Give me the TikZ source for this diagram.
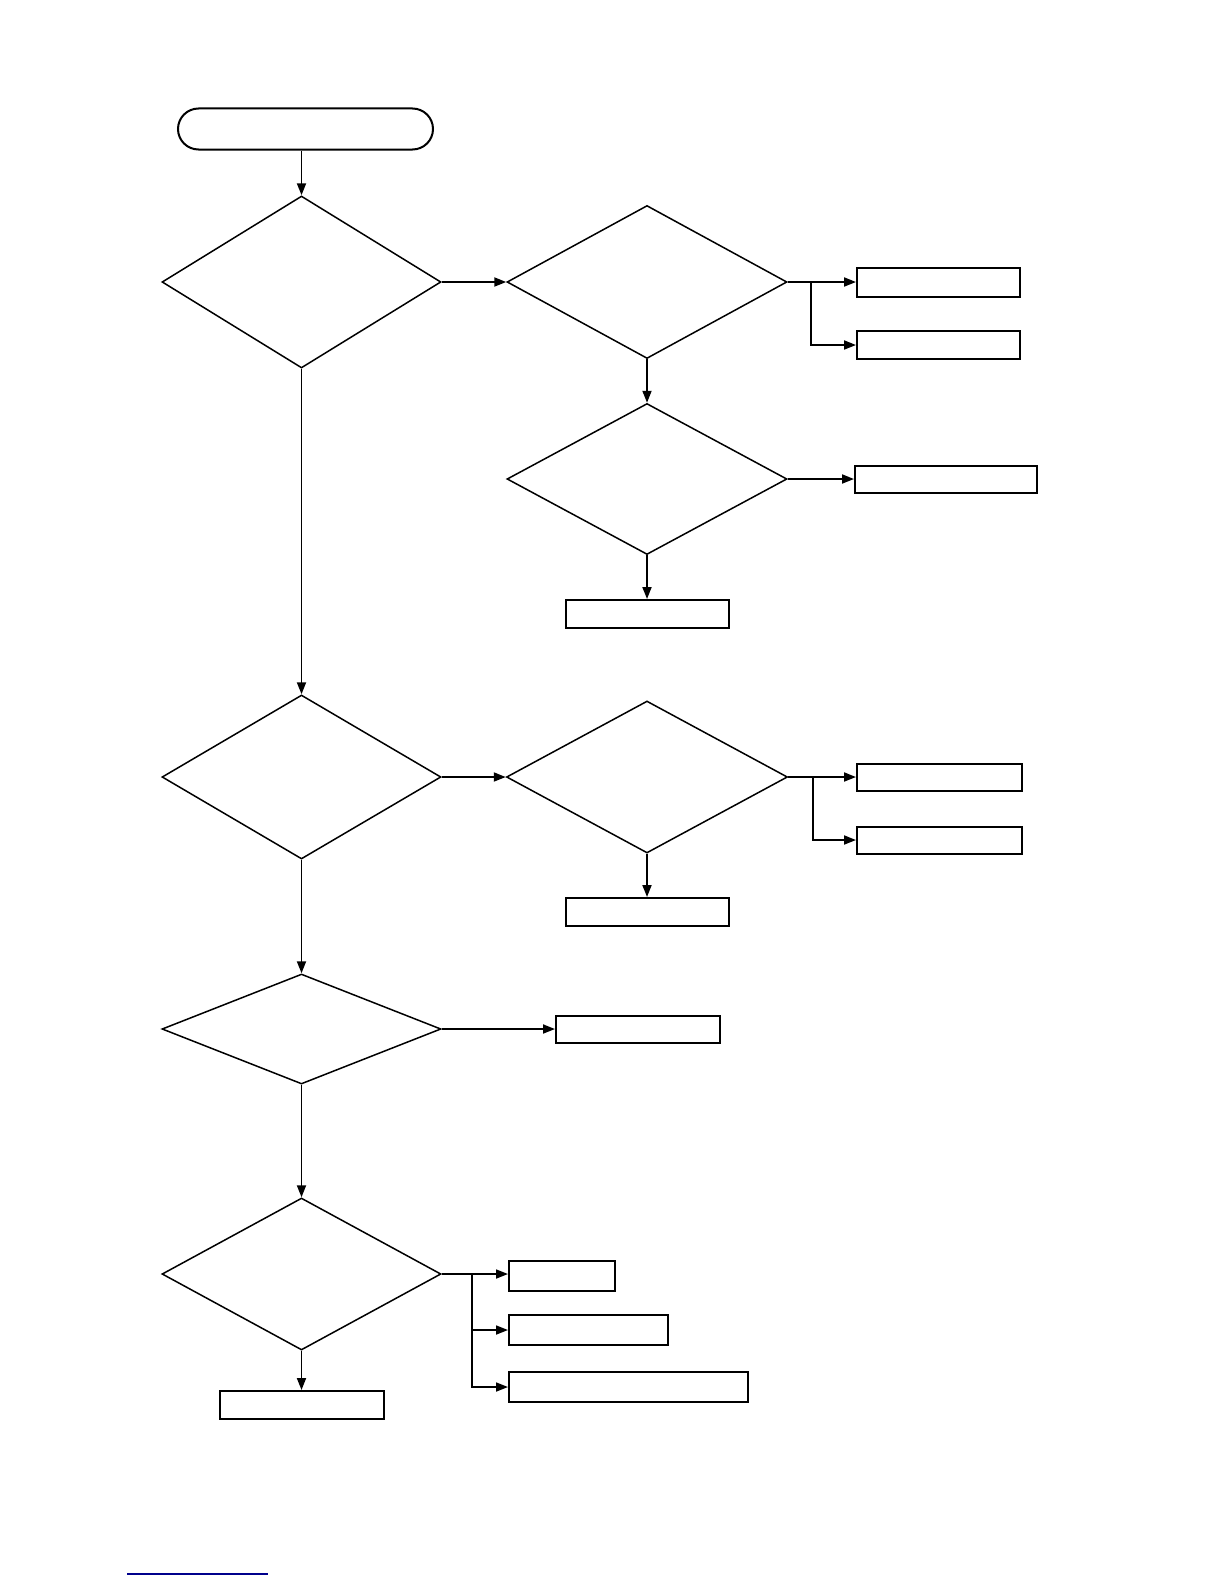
\documentclass[tikz,border=0pt]{standalone}
\usetikzlibrary{shapes.geometric,shapes.misc,arrows.meta}
\begin{document}
\begin{tikzpicture}[x=0.5pt,y=-0.5pt,
  dia/.style={draw,shape=diamond,inner sep=0pt,line width=0.75pt},
  box/.style={draw,rectangle,inner sep=0pt,line width=1pt},
  term/.style={draw,rounded rectangle,inner sep=0pt,line width=1pt},
  conn/.style={line width=0.9pt},
  arr/.style={conn,-{Triangle[length=6pt,width=4.5pt]}}]
\useasboundingbox (0,0) rectangle (1224,1584);
% start
\node[term,minimum width=127.5pt,minimum height=20.5pt] (start) at (305.5,129) {};
% diamonds
\node[dia,minimum width=139.5pt,minimum height=86pt] (d1) at (301.5,282) {};
\node[dia,minimum width=140pt,minimum height=76.5pt] (d2) at (647,282) {};
\node[dia,minimum width=140pt,minimum height=75.5pt] (d2b) at (647,479) {};
\node[dia,minimum width=139.5pt,minimum height=82pt] (d3) at (301.5,777) {};
\node[dia,minimum width=140.5pt,minimum height=76pt] (d4) at (647,777) {};
\node[dia,minimum width=139.5pt,minimum height=55pt] (d5) at (301.5,1029) {};
\node[dia,minimum width=139.5pt,minimum height=76pt] (d6) at (301.5,1274) {};
% boxes
\node[box,minimum width=81.5pt,minimum height=14.5pt] (bA) at (938.5,282) {};
\node[box,minimum width=81.5pt,minimum height=14pt] (bB) at (938.5,345) {};
\node[box,minimum width=91pt,minimum height=13.5pt] (bC) at (946,479) {};
\node[box,minimum width=81.5pt,minimum height=14pt] (bD) at (647,614) {};
\node[box,minimum width=82.5pt,minimum height=13.5pt] (bE) at (939.5,777) {};
\node[box,minimum width=82.5pt,minimum height=13.5pt] (bF) at (939.5,840) {};
\node[box,minimum width=81.5pt,minimum height=14pt] (bG) at (647,912) {};
\node[box,minimum width=82pt,minimum height=13.5pt] (bH) at (638,1029) {};
\node[box,minimum width=53pt,minimum height=15pt] (bI) at (562,1276) {};
\node[box,minimum width=79.5pt,minimum height=15pt] (bJ) at (588.5,1330) {};
\node[box,minimum width=119.5pt,minimum height=15pt] (bK) at (628.5,1387) {};
\node[box,minimum width=82pt,minimum height=14pt] (bL) at (301.5,1405) {};
% junctions
\coordinate (j1) at (811,282);
\coordinate (j2) at (813,777);
\coordinate (j3) at (472,1274);
% connectors
\draw[arr] (d1.north |- start.south) -- (d1.north);
\draw[arr] (d1.east) -- (d2.west);
\draw[conn] (d2.east) -- (j1);
\draw[arr] (j1) -- (bA.west);
\draw[arr] (j1) |- (bB.west);
\draw[arr] (d2.south) -- (d2b.north);
\draw[arr] (d2b.east) -- (bC.west);
\draw[arr] (d2b.south) -- (bD.north);
\draw[arr] (d1.south) -- (d3.north);
\draw[arr] (d3.east) -- (d4.west);
\draw[conn] (d4.east) -- (j2);
\draw[arr] (j2) -- (bE.west);
\draw[arr] (j2) |- (bF.west);
\draw[arr] (d4.south) -- (bG.north);
\draw[arr] (d3.south) -- (d5.north);
\draw[arr] (d5.east) -- (bH.west);
\draw[arr] (d5.south) -- (d6.north);
\draw[conn] (d6.east) -- (j3);
\draw[arr] (j3) -- (bI.west |- j3);
\draw[arr] (j3) |- (bJ.west);
\draw[arr] (j3) |- (bK.west);
\draw[arr] (d6.south) -- (bL.north);
% blue underline
\draw[line width=1pt,color={rgb,255:red,0;green,0;blue,140}] (127,1574) -- (268,1574);
\end{tikzpicture}
\end{document}
